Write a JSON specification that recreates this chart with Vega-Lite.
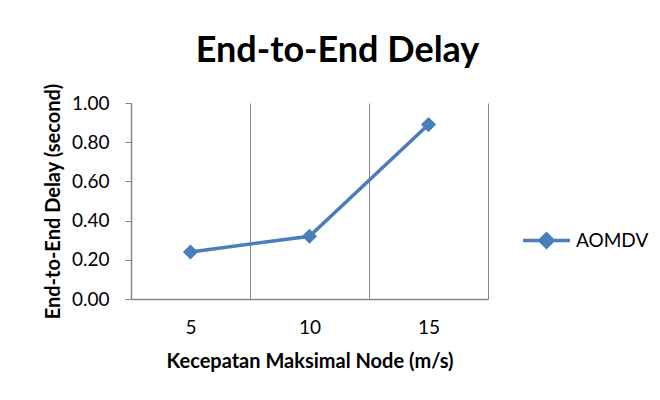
{
  "$schema": "https://vega.github.io/schema/vega-lite/v6.json",
  "autosize": "none",
  "width": 357,
  "height": 196,
  "padding": {"left": 131, "top": 103, "right": 172, "bottom": 101},
  "background": "white",
  "config": {
    "font": "Lato",
    "view": {"stroke": null},
    "axis": {"labelFont": "Lato", "titleFont": "Lato", "labelColor": "#000000", "titleColor": "#000000"}
  },
  "title": {
    "text": "End-to-End Delay",
    "font": "Lato",
    "fontSize": 36,
    "fontWeight": "bold",
    "color": "#000000",
    "anchor": "middle",
    "dx": 28,
    "offset": 13
  },
  "data": {
    "values": [
      {"speed": 5, "delay": 0.24, "series": "AOMDV"},
      {"speed": 10, "delay": 0.32, "series": "AOMDV"},
      {"speed": 15, "delay": 0.89, "series": "AOMDV"}
    ]
  },
  "mark": {"type": "line", "strokeWidth": 3.5, "point": {"shape": "diamond", "size": 230, "filled": true, "opacity": 1}},
  "encoding": {
    "x": {
      "field": "speed",
      "type": "ordinal",
      "scale": {"type": "band", "paddingInner": 0, "paddingOuter": 0},
      "axis": {
        "title": "Kecepatan Maksimal Node (m/s)",
        "titleFontSize": 20,
        "titleFontWeight": "bold",
        "titlePadding": 14,
        "labelFontSize": 19,
        "labelAngle": 0,
        "labelPadding": 19,
        "ticks": false,
        "tickBand": "extent",
        "grid": true,
        "gridColor": "#868686",
        "gridWidth": 1,
        "gridOpacity": 1,
        "domainColor": "#868686",
        "domainWidth": 1.5
      }
    },
    "y": {
      "field": "delay",
      "type": "quantitative",
      "scale": {"domain": [0, 1], "nice": false},
      "axis": {
        "title": "End-to-End Delay (second)",
        "titleFontSize": 20,
        "titleFontWeight": "bold",
        "titlePadding": 8,
        "labelFontSize": 19,
        "format": ".2f",
        "values": [0, 0.2, 0.4, 0.6, 0.8, 1.0],
        "grid": false,
        "ticks": true,
        "tickSize": 6,
        "tickColor": "#868686",
        "labelPadding": 16,
        "domainColor": "#868686",
        "domainWidth": 1.5
      }
    },
    "color": {
      "field": "series",
      "type": "nominal",
      "scale": {"range": ["#4A7EBB"]},
      "legend": {
        "title": null,
        "orient": "none",
        "legendX": 390,
        "legendY": 112,
        "padding": 0,
        "symbolType": "M-1,0L1,0M-0.28,0L0,-0.28L0.28,0L0,0.28Z",
        "symbolSize": 2200,
        "symbolStrokeWidth": 3.5,
        "symbolFillColor": "#4A7EBB",
        "symbolStrokeColor": "#4A7EBB",
        "symbolOpacity": 1,
        "labelFontSize": 19,
        "labelColor": "#000000",
        "labelFont": "Lato",
        "labelOffset": 4
      }
    }
  }
}
